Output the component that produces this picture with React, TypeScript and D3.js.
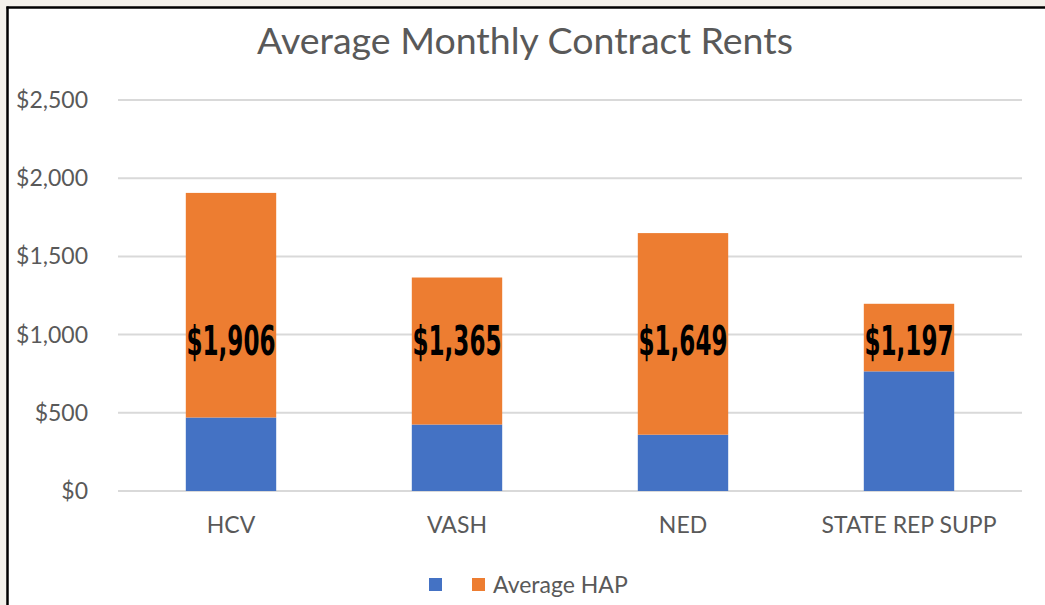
import React from "react";
import * as d3 from "d3";

const categories = ["HCV", "VASH", "NED", "STATE REP SUPP"];
const tenantRent = [470, 425, 360, 765];
const averageHap = [1436, 940, 1289, 432];
const totalLabels = ["$1,906", "$1,365", "$1,649", "$1,197"];
const yTicks = [0, 500, 1000, 1500, 2000, 2500];
const seriesNames = ["", "Average HAP"];
const seriesColors = ["#4472C4", "#ED7D31"];
const labelLevel = 870;

const W = 1045;
const H = 605;
const margin = { left: 118, right: 23, top: 100, bottom: 114 };
const font = "Lato, 'Open Sans', sans-serif";

export default function App() {
  const x = d3
    .scaleBand<string>()
    .domain(categories)
    .range([margin.left, W - margin.right])
    .paddingInner(0.6)
    .paddingOuter(0.3);
  const y = d3.scaleLinear().domain([0, 2500]).range([H - margin.bottom, margin.top]);

  const rows = categories.map((c, i) => ({ cat: c, tenant: tenantRent[i], hap: averageHap[i] }));
  const stack = d3.stack<any>().keys(["tenant", "hap"])(rows);
  const fmt = (v: number) => "$" + d3.format(",")(v);

  return (
    <div style={{ position: "fixed", left: 0, top: 0, width: W, height: H }}>
      <svg width={W} height={H} style={{ display: "block" }}>
        <rect x={0} y={0} width={W} height={H} fill="#f3f0ea" />
        <rect x={8} y={8} width={W} height={H} fill="#ffffff" />
        <line x1={7.5} y1={6.5} x2={7.5} y2={H} stroke="#000" strokeWidth={2.5} />
        <line x1={6.5} y1={7.5} x2={W} y2={7.5} stroke="#000" strokeWidth={2.5} />
        <text x={525} y={54} textAnchor="middle" fontFamily={font} fontSize={37.5} fill="#595959">
          Average Monthly Contract Rents
        </text>
        {yTicks.map((t) => (
          <g key={t}>
            <line
              x1={margin.left}
              x2={W - margin.right}
              y1={y(t)}
              y2={y(t)}
              stroke="#d9d9d9"
              strokeWidth={2}
            />
            <text
              x={88}
              y={y(t)}
              dy="0.35em"
              textAnchor="end"
              fontFamily={font}
              fontSize={23}
              fill="#595959"
            >
              {fmt(t)}
            </text>
          </g>
        ))}
        {stack.map((s, si) => (
          <g key={si}>
            {s.map((d: any, i: number) => (
              <rect
                key={i}
                x={x(categories[i])}
                width={x.bandwidth()}
                y={y(d[1])}
                height={y(d[0]) - y(d[1])}
                fill={seriesColors[si]}
              />
            ))}
          </g>
        ))}
        {categories.map((c, i) => (
          <text
            key={c}
            transform={`translate(${(x(c) as number) + x.bandwidth() / 2},${y(labelLevel)}) scale(0.64,1)`}
            textAnchor="middle"
            fontFamily="'DejaVu Sans Condensed', 'DejaVu Sans', sans-serif"
            fontWeight="bold"
            fontSize={40}
            fill="#000"
          >
            {totalLabels[i]}
          </text>
        ))}
        {categories.map((c) => (
          <text
            key={c}
            x={(x(c) as number) + x.bandwidth() / 2}
            y={525}
            dy="0.35em"
            textAnchor="middle"
            fontFamily={font}
            fontSize={23}
            fill="#595959"
          >
            {c}
          </text>
        ))}
        <g>
          <rect x={429} y={578} width={13} height={13} fill={seriesColors[0]} />
          <rect x={472} y={578} width={13} height={13} fill={seriesColors[1]} />
          <text x={493} y={585} dy="0.35em" fontFamily={font} fontSize={23} fill="#595959">
            {seriesNames[1]}
          </text>
        </g>
      </svg>
    </div>
  );
}
